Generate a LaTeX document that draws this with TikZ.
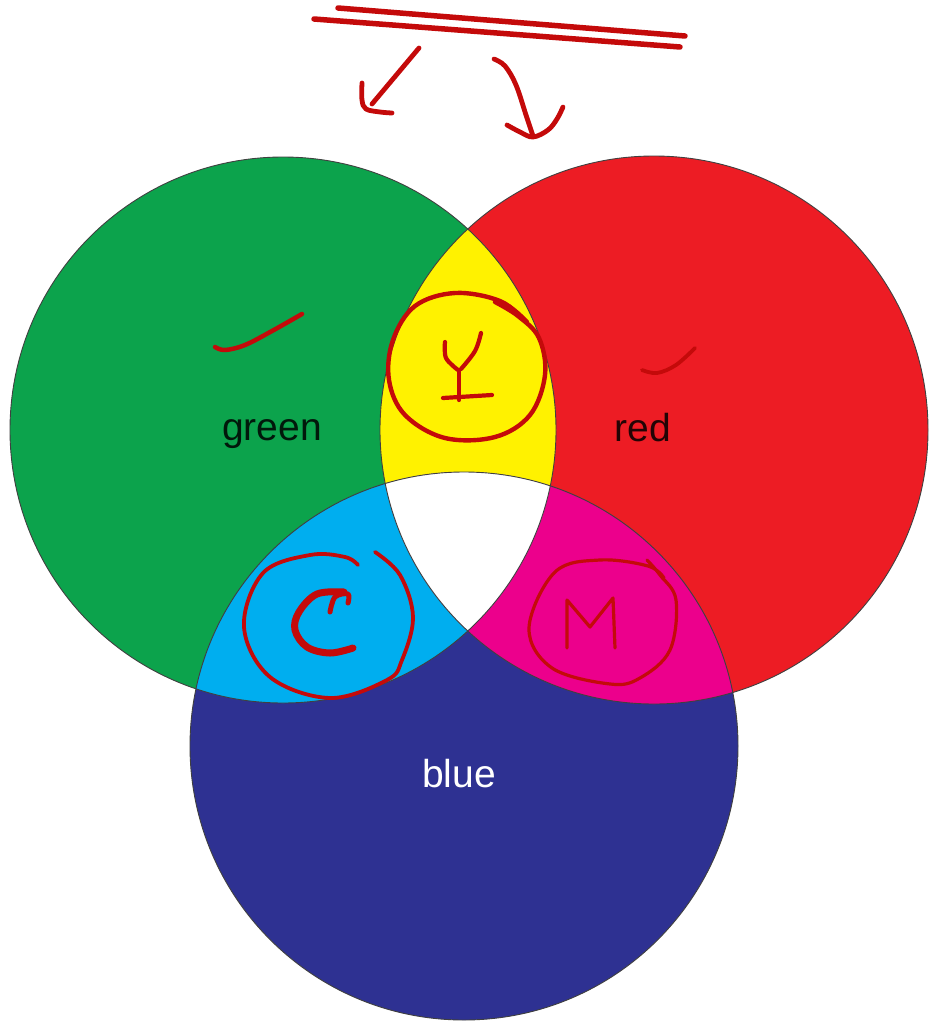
\documentclass[tikz,border=0pt]{standalone}
\usepackage{fontspec}
\setmainfont{Liberation Sans}
\definecolor{cgreen}{RGB}{12,163,76}
\definecolor{cred}{RGB}{237,28,36}
\definecolor{cblue}{RGB}{46,49,146}
\definecolor{cyellow}{RGB}{255,242,0}
\definecolor{ccyan}{RGB}{0,174,239}
\definecolor{cmagenta}{RGB}{236,0,140}
\definecolor{ink}{RGB}{196,10,10}
\begin{document}
\begin{tikzpicture}[x=1pt,y=-1pt,
  rim/.style={draw=black!75,line width=0.9pt},
  pen/.style={draw=ink,line width=4.8pt,line cap=round,line join=round},
  lbl/.style={font=\fontsize{39}{44}\selectfont,anchor=base}]
\useasboundingbox (0,0) rectangle (930,1023);
\fill[white] (0,0) rectangle (930,1023);
\coordinate (G) at (283,430);
\coordinate (R) at (654,430);
\coordinate (B) at (464,746);
% base discs
\fill[cgreen] (G) circle[radius=273pt];
\fill[cred] (R) circle[radius=274pt];
\fill[cblue] (B) circle[radius=274pt];
% overlaps
\begin{scope}
  \clip (G) circle[radius=273pt];
  \fill[cyellow] (R) circle[radius=274pt];
  \fill[ccyan] (B) circle[radius=274pt];
\end{scope}
\begin{scope}
  \clip (R) circle[radius=274pt];
  \fill[cmagenta] (B) circle[radius=274pt];
  \clip (G) circle[radius=273pt];
  \fill[white] (B) circle[radius=274pt];
\end{scope}
% outlines
\draw[rim] (G) circle[radius=273pt];
\draw[rim] (R) circle[radius=274pt];
\draw[rim] (B) circle[radius=274pt];
% labels
\node[lbl,text=black,text opacity=0.85] (lgreen) at (272,440) {green};
\node[lbl,text=black,text opacity=0.85] (lred) at (643,441) {red};
\node[lbl,text=white] (lblue) at (459,787) {blue};
% annotations: top strokes and arrows
\draw[pen,line width=5.5pt] (338,8) -- (685,36);
\draw[pen,line width=5.5pt] (314,19) -- (680,47);
\draw[pen] (419,48) -- (372,104);
\draw[pen] plot[smooth,tension=0.6] coordinates {(362,83) (362,100) (366,109) (380,112) (392,113)};
\draw[pen] plot[smooth,tension=0.6] coordinates {(494,59) (505,66) (516,85) (526,115) (533,136)};
\draw[pen] plot[smooth,tension=0.6] coordinates {(507,125) (520,132) (533,137) (548,130) (557,119) (563,107)};
% Y
\draw[pen,line width=4.4pt] plot[smooth,tension=0.6] coordinates {(527,322) (500,301) (455,293) (415,306) (393,340) (389,380) (405,415) (445,438) (495,437) (530,415) (545,375) (539,338) (518,316) (495,302)};
\draw[pen,line width=4.2pt] plot[smooth,tension=0.6] coordinates {(445,342) (446,358) (458,370)};
\draw[pen,line width=4.2pt] plot[smooth,tension=0.6] coordinates {(481,333) (475,351) (461,369)};
\draw[pen,line width=4.2pt] (459,370) -- (459,400);
\draw[pen,line width=4.2pt] (443,398) -- (492,395);
% C
\draw[pen,line width=3.8pt] plot[smooth,tension=0.6] coordinates {(375,552) (400,575) (413,617) (402,660) (387,680) (330,698) (270,677) (244,627) (263,573) (310,555) (345,557) (358,565)};
\draw[pen,line width=7pt] plot[smooth,tension=0.6] coordinates {(344,592) (317,594) (299,612) (295,630) (307,647) (330,653) (353,648)};
\draw[pen,line width=5pt] plot[smooth,tension=0.6] coordinates {(330,612) (335,597) (348,594) (348,603)};
% M
\draw[pen,line width=3.2pt] plot[smooth,tension=0.6] coordinates {(647,560) (660,575) (676,600) (670,650) (640,678) (610,684) (552,668) (529,628) (555,572) (600,560) (648,566) (664,578)};
\draw[pen,line width=3.2pt] (567,648) -- (567,600) -- (590,627) -- (613,598) -- (615,648);
% ticks
\draw[pen,line width=4.5pt] plot[smooth,tension=0.6] coordinates {(215,347) (225,350) (245,345) (272,331) (302,314)};
\draw[pen,line width=3.8pt] plot[smooth,tension=0.6] coordinates {(642,370) (657,373) (676,365) (695,348)};
\end{tikzpicture}
\end{document}
